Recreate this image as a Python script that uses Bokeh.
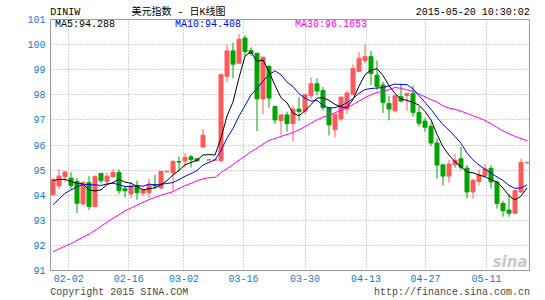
from bokeh.plotting import figure
from bokeh.models import Range1d, FixedTicker, Label, ColumnDataSource, LinearAxis
from bokeh.embed import file_html
from bokeh.resources import INLINE

# ---------------- data ----------------
tick_labels = ["02-02", "02-16", "03-02", "03-16", "03-30", "04-13", "04-27", "05-11"]
symbol = "DINIW"
chart_title = "美元指数 - 日K线图"
timestamp = "2015-05-20 10:30:02"
copyright_text = "Copyright 2015 SINA.COM"
site_url = "http://finance.sina.com.cn"

opens = [94.01, 94.37, 94.74, 94.68, 94.55, 93.65, 94.50, 93.55, 94.87, 94.55,
         94.74, 94.90, 94.26, 94.05, 94.37, 94.08, 94.10, 94.42, 94.29, 94.93,
         94.89, 95.34, 95.37, 95.53, 95.45, 95.92, 95.40, 95.40, 95.37, 98.74,
         99.75, 99.26, 100.26, 99.76, 99.66, 97.84, 99.13, 97.53, 96.98, 97.20,
         96.85, 97.43, 97.35, 97.96, 98.44, 98.17, 97.49, 96.61, 97.04, 97.43,
         98.02, 98.94, 99.37, 99.52, 98.78, 98.39, 97.65, 97.36, 97.92, 97.97,
         98.05, 97.29, 96.95, 96.74, 96.08, 95.21, 94.76, 95.21, 95.45, 95.08,
         94.13, 94.55, 94.79, 95.07, 94.53, 93.67, 93.41, 93.28, 94.13, 95.29]

highs = [94.68, 95.03, 94.97, 94.92, 94.68, 94.55, 94.76, 94.79, 94.88, 94.90,
         95.05, 95.03, 94.37, 94.53, 94.58, 94.26, 94.66, 94.82, 94.97, 94.97,
         95.41, 95.54, 95.67, 95.60, 95.47, 96.63, 95.42, 95.42, 98.82, 100.00,
         100.08, 100.42, 100.37, 99.89, 99.66, 99.50, 99.18, 97.55, 97.20, 97.33,
         97.54, 97.91, 98.01, 98.68, 98.65, 98.31, 97.51, 97.22, 97.91, 98.17,
         99.21, 99.71, 100.00, 99.74, 99.37, 98.52, 97.96, 98.00, 98.45, 98.05,
         98.37, 97.53, 97.08, 96.89, 96.26, 95.21, 95.42, 95.63, 95.92, 95.21,
         94.66, 95.03, 95.24, 95.20, 94.53, 93.78, 94.04, 94.22, 95.46, 95.34]

lows = [94.00, 94.24, 94.51, 94.24, 93.29, 93.62, 93.42, 93.53, 94.47, 94.47,
        94.71, 94.05, 93.92, 93.89, 93.82, 93.97, 93.89, 94.24, 94.24, 94.92,
        94.16, 94.95, 95.10, 95.10, 95.35, 95.90, 95.40, 95.40, 95.35, 98.50,
        98.66, 99.22, 99.55, 99.55, 96.55, 97.22, 97.49, 96.84, 96.40, 96.53,
        96.16, 96.96, 97.22, 97.83, 97.99, 97.38, 96.38, 96.30, 96.95, 97.25,
        98.00, 98.90, 99.26, 98.39, 98.20, 97.28, 96.98, 97.30, 97.70, 97.37,
        97.13, 96.74, 96.53, 95.95, 94.66, 94.39, 94.50, 95.08, 95.00, 93.87,
        93.87, 94.39, 94.71, 94.26, 93.47, 93.14, 93.14, 93.28, 94.09, 95.29]

closes = [94.63, 94.76, 94.92, 94.38, 93.68, 94.50, 93.55, 94.74, 94.58, 94.76,
          94.90, 94.18, 94.18, 94.37, 94.10, 94.21, 94.42, 94.37, 94.95, 94.95,
          95.34, 95.32, 95.50, 95.42, 95.37, 96.39, 95.41, 95.41, 98.80, 99.75,
          99.22, 100.21, 99.72, 99.66, 97.84, 99.50, 97.87, 97.00, 97.20, 96.85,
          97.43, 97.33, 98.01, 98.44, 98.15, 97.49, 96.80, 97.22, 97.91, 98.07,
          99.05, 99.45, 99.52, 98.85, 98.33, 97.70, 97.43, 97.96, 97.75, 98.05,
          97.30, 96.87, 96.71, 96.08, 95.20, 94.76, 95.24, 95.39, 95.11, 94.13,
          94.59, 94.80, 95.05, 94.53, 93.67, 93.38, 93.28, 94.18, 95.30, 95.30]

# moving-average values at the left edge (their earlier closes are off the chart)
ma5_head = [94.58, 94.63, 94.63, 94.55]
ma10_head = [93.62, 93.84, 94.08, 94.21, 94.34, 94.42, 94.42, 94.41, 94.39]
ma30_head = [91.75, 91.86, 91.97, 92.07, 92.20, 92.33, 92.44, 92.60, 92.76, 92.93,
             93.08, 93.22, 93.38, 93.49, 93.60, 93.72, 93.82, 93.92, 94.00, 94.07,
             94.14, 94.27, 94.38, 94.47, 94.57, 94.65, 94.70, 94.71, 94.90]

# ---------------- derived ----------------
n = len(closes)
idx = list(range(n))


def moving_avg(head, period):
    out = list(head)
    for i in range(len(head), n):
        out.append(sum(closes[i - period + 1:i + 1]) / period)
    return out


ma5 = moving_avg(ma5_head, 5)
ma10 = moving_avg(ma10_head, 10)
ma30 = moving_avg(ma30_head, 30)

UP = "#ff5a5a"
DOWN = "#00a400"
colors = [UP if c >= o else DOWN for o, c in zip(opens, closes)]
src = ColumnDataSource(dict(
    x=idx, o=opens, h=highs, l=lows, c=closes,
    top=[max(o, c) for o, c in zip(opens, closes)],
    bottom=[min(o, c) for o, c in zip(opens, closes)],
    color=colors,
))

# ---------------- layout ----------------
W, H = 545, 300
FL, FR, FT, FB = 50, 529, 19, 271          # frame edges in page pixels
STEP = 6.0                                  # pixels per trading day
X0 = 52.5                                   # centre of first candle

p = figure(width=W, height=H, output_backend="svg", toolbar_location=None,
           x_range=Range1d((FL - X0) / STEP, (FR - X0) / STEP),
           y_range=Range1d(91, 101),
           min_border_left=FL, min_border_right=W - FR,
           min_border_top=FT, min_border_bottom=H - FB,
           background_fill_color="white", border_fill_color="white")
p.outline_line_color = "#9a9a9a"
p.outline_line_width = 1


def dx(px):
    return (px - X0) / STEP


def dy(py):
    return 91 + (FB - py) * 10.0 / (FB - FT)


tick_pos = [2.63, 12.63, 21.83, 31.75, 42.0, 52.17, 62.08, 72.25]

AXIS_BLUE = "#1679cf"
MONO = "Liberation Mono"


def plain_axis(ax):
    ax.axis_line_color = None
    ax.major_tick_line_color = None
    ax.minor_tick_line_color = None
    ax.major_tick_out = 0
    ax.major_tick_in = 0
    ax.major_label_text_font = MONO
    ax.major_label_text_font_size = "10px"


p.yaxis.ticker = FixedTicker(ticks=list(range(91, 102)))
p.xaxis.ticker = FixedTicker(ticks=tick_pos)
p.xaxis.major_label_overrides = {t: s for t, s in zip(tick_pos, tick_labels)}
for ax in (p.xaxis[0], p.yaxis[0]):
    plain_axis(ax)
    ax.major_label_text_color = AXIS_BLUE
p.yaxis.major_label_standoff = 5
p.xaxis.major_label_standoff = 4

# header line (above the frame): symbol, chart title, timestamp
hdr_pos = [dx(64.8), dx(178.0), dx(472.2)]
hdr_axis = LinearAxis(ticker=FixedTicker(ticks=hdr_pos),
                      major_label_overrides={hdr_pos[0]: symbol,
                                             hdr_pos[1]: chart_title,
                                             hdr_pos[2]: timestamp})
plain_axis(hdr_axis)
hdr_axis.major_label_text_font = "Liberation Mono, Noto Sans CJK SC"
hdr_axis.major_label_text_color = "#000000"
hdr_axis.major_label_standoff = 2
p.add_layout(hdr_axis, "above")

# footer line (below the date labels)
ftr_pos = [dx(118.8), dx(451.4)]
ftr_axis = LinearAxis(ticker=FixedTicker(ticks=ftr_pos),
                      major_label_overrides={ftr_pos[0]: copyright_text,
                                             ftr_pos[1]: site_url})
plain_axis(ftr_axis)
ftr_axis.major_label_text_color = "#4a4a4a"
ftr_axis.major_label_standoff = 2
p.add_layout(ftr_axis, "below")

p.xgrid.ticker = FixedTicker(ticks=tick_pos)
p.ygrid.ticker = FixedTicker(ticks=list(range(92, 101)))
for g in (p.xgrid[0], p.ygrid[0]):
    g.grid_line_color = "#a8a8a8"
    g.grid_line_dash = "1 2"
    g.grid_line_width = 1

# candles
p.segment(x0="x", y0="l", x1="x", y1="h", color="color", line_width=1, source=src)
p.vbar(x="x", width=4.0 / STEP, top="top", bottom="bottom",
       fill_color="color", line_color="color", line_width=1, source=src)

# moving averages
p.line(idx, ma30, color="#ff00ff", line_width=1)
p.line(idx, ma10, color="#0000ff", line_width=1)
p.line(idx, ma5, color="#000000", line_width=1)


# ---------------- texts inside the frame ----------------
def add_label(text, px, py, color="#000000", align="left", font=MONO, size="10px",
              style="normal"):
    p.add_layout(Label(x=dx(px), y=dy(py), text=text, text_color=color,
                       text_align=align, text_baseline="middle",
                       text_font=font, text_font_size=size,
                       text_font_style=style))


add_label("MA5:%.3f" % ma5[-1], 54.5, 24.5, color="#000000")
add_label("MA10:%.3f" % ma10[-1], 174.5, 24.5, color="#0000ff")
add_label("MA30:%.4f" % ma30[-1], 294.5, 24.5, color="#ff00ff")
add_label("sina", 527, 262, color="#c8c8c8", align="right", font="DejaVu Sans",
          size="15px", style="bold italic")

open("out.html", "w").write(file_html(p, INLINE))
